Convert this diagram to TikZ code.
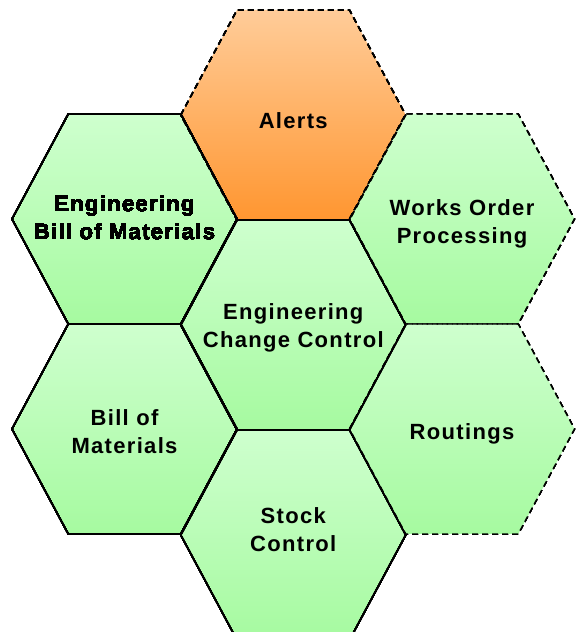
\documentclass[tikz,border=0pt]{standalone}
\usepackage{fontspec}
\usepackage{tikz}
\newfontfamily\cellfont[LetterSpace=6]{Liberation Sans}

\definecolor{celltop}{RGB}{206,255,206}
\definecolor{cellbot}{RGB}{166,250,160}
\definecolor{alerttop}{RGB}{255,204,153}
\definecolor{alertbot}{RGB}{255,150,48}

\tikzset{
  cellfill/.style={top color=celltop, bottom color=cellbot, draw=none},
  alertfill/.style={top color=alerttop, bottom color=alertbot, draw=none},
  solidedge/.style={draw=black, line width=1.1pt, line join=round},
  dashedge/.style={draw=black, line width=1.1pt, dash pattern=on 4.5pt off 3pt},
  celltext/.style={align=center, font=\cellfont\bfseries\fontsize{16.5}{21}\selectfont}
}

% one hexagon cell round a centre
\newcommand{\hexcell}[2]{%
  \path[#1, shift={(#2)}] (-112.5,0) -- (-56.25,105) -- (56.25,105) -- (112.5,0) -- (56.25,-105) -- (-56.25,-105) -- cycle;}

\begin{document}
\begin{tikzpicture}[x=0.75pt,y=0.75pt]
\useasboundingbox (0,0) rectangle (582,632);
% centres
\coordinate (ebom) at (124.5,413);
\coordinate (bom) at (124.5,203);
\coordinate (alerts) at (293.25,517);
\coordinate (ecc) at (293.25,307);
\coordinate (stock) at (293.25,97);
\coordinate (wop) at (462,413);
\coordinate (rout) at (462,203);
% fills
\hexcell{alertfill}{alerts}
\foreach \c in {ebom,bom,ecc,stock,wop,rout}
  \hexcell{cellfill}{\c}
% outlines
\foreach \c in {alerts,wop,rout}
  \hexcell{dashedge}{\c}
\foreach \c in {ebom,bom,ecc,stock}
  \hexcell{solidedge}{\c}
% labels
\node[celltext] (ebomtext) at ([yshift=1]ebom) {Engineering\\Bill of Materials};
\node[celltext] (bomtext) at ([yshift=-2]bom) {Bill of\\Materials};
\node[celltext] (alertstext) at ([yshift=-4]alerts) {Alerts};
\node[celltext] (ecctext) at ([yshift=-2]ecc) {Engineering\\Change Control};
\node[celltext] (stocktext) at ([yshift=4]stock) {Stock\\Control};
\node[celltext] (woptext) at ([yshift=-4]wop) {Works Order\\Processing};
\node[celltext] (routtext) at ([yshift=-4]rout) {Routings};
\end{tikzpicture}
\end{document}
